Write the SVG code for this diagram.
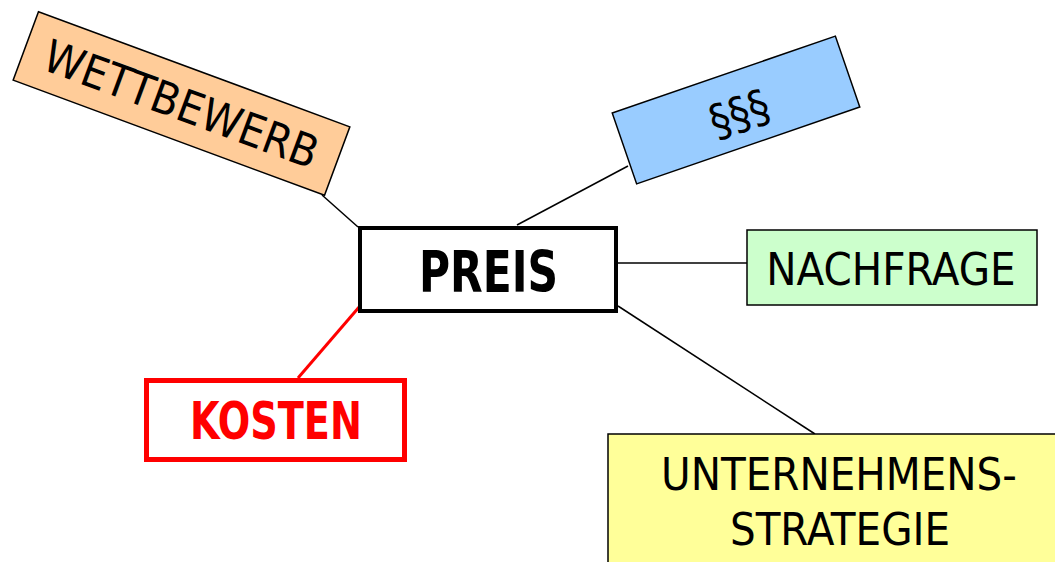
<svg xmlns="http://www.w3.org/2000/svg" width="1055" height="562" viewBox="0 0 1055 562">
<style>
.box{stroke:#000;stroke-width:1.5}
.t{font-family:"DejaVu Sans Condensed","DejaVu Sans",sans-serif;font-stretch:condensed;font-size:45px;fill:#000;text-anchor:middle}
.b{font-family:"DejaVu Sans Condensed","DejaVu Sans",sans-serif;font-stretch:condensed;font-weight:bold;text-anchor:middle}
.c{stroke:#000;stroke-width:1.5;fill:none}
</style>
<rect width="1055" height="562" fill="#fff"/>
<g id="connectors">
<line class="c" x1="322" y1="195" x2="358" y2="227"/>
<line class="c" x1="517" y1="225" x2="628" y2="166"/>
<line class="c" x1="618" y1="263" x2="747" y2="263"/>
<line class="c" x1="618" y1="306" x2="815" y2="434"/>
<line x1="360" y1="306" x2="298" y2="378" stroke="#f00" stroke-width="3"/>
</g>
<g id="wettbewerb" transform="rotate(20.3 181.5 103.5)">
<rect class="box" x="15.5" y="67" width="332" height="73" fill="#FFCC99"/>
<text class="t" x="181.5" y="120">WETTBEWERB</text>
</g>
<g id="paragraphen" transform="rotate(-19 736 110)">
<rect class="box" x="618" y="72.5" width="236" height="75" fill="#99CCFF"/>
<text class="t" x="738" y="130" font-size="56">§§§</text>
</g>
<g id="preis">
<rect x="360" y="228" width="256" height="83" fill="#fff" stroke="#000" stroke-width="4"/>
<text class="b" x="488.5" y="292" font-size="57" textLength="139" lengthAdjust="spacingAndGlyphs">PREIS</text>
</g>
<g id="nachfrage">
<rect class="box" x="747" y="230" width="290" height="75" fill="#CCFFCC"/>
<text class="t" x="891" y="285">NACHFRAGE</text>
</g>
<g id="kosten">
<rect x="146.5" y="380.5" width="258" height="79" fill="#fff" stroke="#f00" stroke-width="5"/>
<text class="b" x="276" y="439" font-size="51" fill="#f00" textLength="172" lengthAdjust="spacingAndGlyphs">KOSTEN</text>
</g>
<g id="unternehmensstrategie">
<rect class="box" x="608" y="434" width="460" height="140" fill="#FFFF99"/>
<text class="t" x="839" y="490">UNTERNEHMENS-</text>
<text class="t" x="840" y="545">STRATEGIE</text>
</g>
</svg>
